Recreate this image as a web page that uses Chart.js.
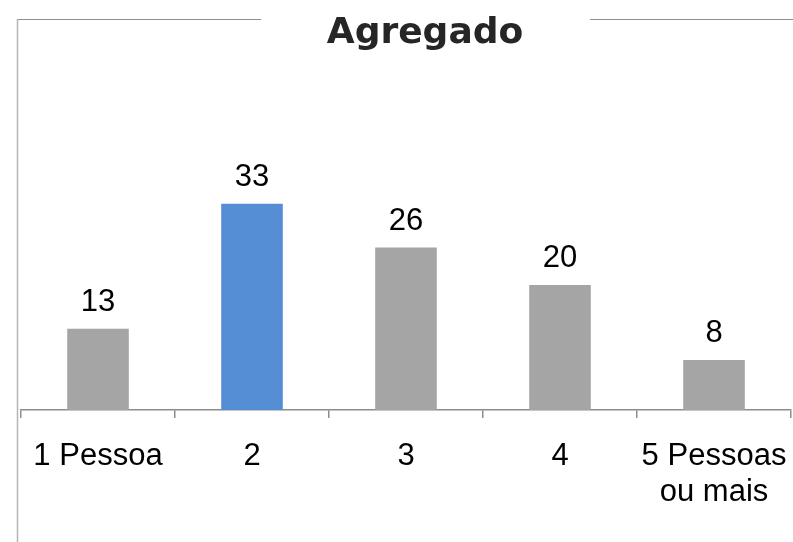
<!DOCTYPE html>
<html>
<head>
<meta charset="utf-8">
<script src="https://cdn.jsdelivr.net/npm/chart.js@4"></script>
<style>
html,body{margin:0;padding:0;background:#fff;}
#c{display:block;}
</style>
</head>
<body>
<canvas id="c" width="793" height="542"></canvas>
<script>
const chartTitle = "Agregado";
const categories = ["1 Pessoa", "2", "3", "4", ["5 Pessoas", "ou mais"]];
const values = [13, 33, 26, 20, 8];
const barColors = ["#a5a5a5", "#558ed5", "#a5a5a5", "#a5a5a5", "#a5a5a5"];

const FONT = "'Liberation Sans', Arial, sans-serif";
const TITLE_FONT = "'DejaVu Sans', Verdana, sans-serif";

const framePlugin = {
  id: 'frame',
  beforeDraw(chart) {
    const ctx = chart.ctx;
    ctx.save();
    ctx.strokeStyle = '#8c8c8c';
    ctx.lineWidth = 1.2;
    ctx.beginPath();
    ctx.moveTo(17, 19.5); ctx.lineTo(261, 19.5);
    ctx.moveTo(590, 19.5); ctx.lineTo(793, 19.5);
    ctx.stroke();
    ctx.strokeStyle = '#b5b5b5';
    ctx.lineWidth = 1.5;
    ctx.beginPath();
    ctx.moveTo(17.5, 19); ctx.lineTo(17.5, 542);
    ctx.stroke();
    ctx.fillStyle = '#262626';
    ctx.font = "bold 36px " + TITLE_FONT;
    ctx.textAlign = 'center';
    ctx.textBaseline = 'alphabetic';
    ctx.fillText(chartTitle, 425, 43);
    ctx.restore();
  }
};

const labelPlugin = {
  id: 'valueLabels',
  afterDatasetsDraw(chart) {
    const ctx = chart.ctx;
    const meta = chart.getDatasetMeta(0);
    ctx.save();
    ctx.fillStyle = '#000';
    ctx.font = "31px " + FONT;
    ctx.textAlign = 'center';
    ctx.textBaseline = 'alphabetic';
    meta.data.forEach((bar, i) => {
      ctx.fillText(String(values[i]), bar.x, bar.y - 18);
    });
    ctx.restore();
  }
};

new Chart(document.getElementById('c'), {
  type: 'bar',
  data: {
    labels: categories,
    datasets: [{
      data: values,
      backgroundColor: barColors,
      borderWidth: 0,
      categoryPercentage: 1,
      barPercentage: 0.4
    }]
  },
  options: {
    responsive: false,
    animation: false,
    devicePixelRatio: 1,
    layout: { padding: { left: 21, right: 2, top: 160, bottom: 0 } },
    plugins: {
      legend: { display: false },
      tooltip: { enabled: false },
      title: { display: false }
    },
    scales: {
      x: {
        offset: true,
        grid: {
          offset: true,
          drawOnChartArea: false,
          drawTicks: true,
          tickLength: 8,
          color: '#8c8c8c',
          lineWidth: 1.5
        },
        border: { display: true, color: '#8c8c8c', width: 1.5 },
        ticks: {
          color: '#000',
          font: { family: FONT, size: 31, lineHeight: 1.15 },
          padding: 21,
          maxRotation: 0,
          autoSkip: false
        },
        afterFit(scale) {
          scale.height = 132;
          scale.paddingLeft = 0;
          scale.paddingRight = 0;
        }
      },
      y: {
        display: false,
        min: 0,
        max: 40
      }
    }
  },
  plugins: [framePlugin, labelPlugin]
});
</script>
</body>
</html>
